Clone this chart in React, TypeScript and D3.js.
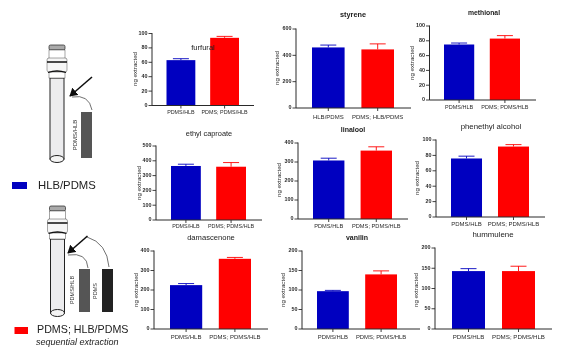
import React from "react";
import * as d3 from "d3";

const FONT = "'Liberation Sans', Arial, sans-serif";
const BLUE = "#0000c0";
const RED = "#ff0000";
const INK = "#2b2b2b";

const panelNames = ["furfural", "styrene", "methional", "ethyl caproate", "linalool", "phenethyl alcohol", "damascenone", "vanilin", "hummulene"];
const catsDefault = ["PDMS/HLB", "PDMS; PDMS/HLB"];
const catsStyrene = ["HLB/PDMS", "PDMS; HLB/PDMS"];
const means = [[63, 94], [460, 445], [75, 83], [365, 360], [308, 360], [76, 91.5], [225, 360], [97, 140], [143, 143]];
const upperErrors = [[65, 96], [478, 487], [77, 87], [377, 388], [320, 380], [79, 94], [233, 367], [99, 149], [149, 155]];
const ticksBy20 = [0, 20, 40, 60, 80, 100];
const ticksBy200 = [0, 200, 400, 600];
const ticksBy100To500 = [0, 100, 200, 300, 400, 500];
const ticksBy100To400 = [0, 100, 200, 300, 400];
const ticksBy50 = [0, 50, 100, 150, 200];
const panelTicks = [ticksBy20, ticksBy200, ticksBy20, ticksBy100To500, ticksBy100To400, ticksBy20, ticksBy100To400, ticksBy50, ticksBy50];

// Panel frames: axis x, axis end, baseline, top, bar span, title, y label, category label
const frames = [
  { ax: 152, xe: 254, y0: 105.5, yt: 33.5, b0: 166.5, b1: 239, tx: 203, ty: 48, lx: 135, ly: 69, cy: 113, cs: 5.4, ts: 7.6, tw: 400 },
  { ax: 296, xe: 411, y0: 108, yt: 29, b0: 312, b1: 394, tx: 353, ty: 15, lx: 277, ly: 68, cy: 117, cs: 6, ts: 7.3, tw: 700 },
  { ax: 429.5, xe: 536, y0: 100, yt: 26, b0: 444, b1: 520, tx: 484, ty: 13, lx: 412, ly: 63, cy: 108, cs: 5.5, ts: 6.8, tw: 700 },
  { ax: 156, xe: 262, y0: 220, yt: 146, b0: 171, b1: 246, tx: 209, ty: 134, lx: 139, ly: 183, cy: 227, cs: 5.4, ts: 7.4, tw: 400 },
  { ax: 298, xe: 408, y0: 219, yt: 143, b0: 313, b1: 392, tx: 353, ty: 130, lx: 279, ly: 180, cy: 226, cs: 5.7, ts: 7, tw: 700 },
  { ax: 436, xe: 545, y0: 217, yt: 140, b0: 451, b1: 529, tx: 491, ty: 127, lx: 417, ly: 178, cy: 224, cs: 6, ts: 7.8, tw: 400 },
  { ax: 154, xe: 268, y0: 329, yt: 251, b0: 170, b1: 251, tx: 211, ty: 238, lx: 136, ly: 290, cy: 337, cs: 6, ts: 7.6, tw: 400 },
  { ax: 302, xe: 420, y0: 329, yt: 251, b0: 317, b1: 397, tx: 357, ty: 238, lx: 283, ly: 290, cy: 337, cs: 5.9, ts: 7, tw: 700 },
  { ax: 435, xe: 552, y0: 329, yt: 248, b0: 452, b1: 535, tx: 493, ty: 235, lx: 416, ly: 290, cy: 337, cs: 6.2, ts: 7.9, tw: 400 },
];

function Panel({ index }: { index: number }) {
  const f = frames[index];
  const cats = index === 1 ? catsStyrene : catsDefault;
  const ticks = panelTicks[index];
  const y = d3.scaleLinear().domain([0, ticks[ticks.length - 1]]).range([f.y0, f.yt]);
  const x = d3.scaleBand<string>().domain(cats).range([f.b0, f.b1]).paddingInner(0.34);
  const colors = [BLUE, RED];
  const bw = x.bandwidth();
  return (
    <g fontFamily={FONT}>
      {cats.map((c, i) => {
        const left = x(c) as number;
        const cx = left + bw / 2;
        const top = y(means[index][i]);
        const eh = y(upperErrors[index][i]);
        return (
          <g key={c}>
            <rect x={left} y={top} width={bw} height={f.y0 - top} fill={colors[i]} />
            <path d={`M${cx},${top}V${eh}M${cx - 8},${eh}H${cx + 8}`} stroke={colors[i]} strokeWidth={0.9} fill="none" />
            <path d={`M${cx},${f.y0}v3`} stroke={INK} strokeWidth={0.9} />
            <text x={cx} y={f.cy} textAnchor="middle" dominantBaseline="middle" fontSize={f.cs} fill={INK}>{c}</text>
          </g>
        );
      })}
      <path d={`M${f.ax},${f.yt - 0.5}V${f.y0}H${f.xe}`} stroke={INK} strokeWidth={1} fill="none" />
      {ticks.map((t) => (
        <g key={t}>
          <path d={`M${f.ax - 3.5},${y(t)}H${f.ax}`} stroke={INK} strokeWidth={0.9} />
          <text x={f.ax - 4.5} y={y(t)} textAnchor="end" dominantBaseline="middle" fontSize={5.4} fontWeight={700} fill={INK}>{t}</text>
        </g>
      ))}
      <text x={f.tx} y={f.ty} textAnchor="middle" dominantBaseline="middle" fontSize={f.ts} fontWeight={f.tw} fill="#222">{panelNames[index]}</text>
      <text transform={`translate(${f.lx},${f.ly}) rotate(-90)`} textAnchor="middle" dominantBaseline="middle" fontSize={6.2} fill={INK}>ng extracted</text>
    </g>
  );
}

function Tube({ cx, top, bottom }: { cx: number; top: number; bottom: number }) {
  const t = top;
  return (
    <g stroke="#222" fill="none">
      <rect x={cx - 7} y={t + 33} width={14} height={bottom - t - 33} fill="#ececee" strokeWidth={1} />
      <ellipse cx={cx} cy={bottom} rx={7} ry={3.5} fill="#f4f4f4" strokeWidth={1} />
      <rect x={cx - 8} y={t} width={16} height={5} rx={1.5} fill="#aaa" strokeWidth={0.7} />
      <rect x={cx - 8} y={t + 5} width={16} height={9} fill="#fff" strokeWidth={0.4} />
      <rect x={cx - 10} y={t + 13} width={20} height={14} rx={2} fill="#f6f6f6" strokeWidth={0.4} />
      <rect x={cx - 8} y={t + 27} width={16} height={6} fill="#fff" strokeWidth={0.4} />
      <path d={`M${cx - 10},${t + 17}H${cx + 10}M${cx - 9},${t + 27.5}Q${cx},${t + 24.5} ${cx + 9},${t + 27.5}`} stroke="#111" strokeWidth={1.3} />
    </g>
  );
}

export default function App() {
  return (
    <svg width={567} height={355} style={{ position: "absolute", left: 0, top: 0, background: "#fff" }}>
      <defs>
        <filter id="soft" x="0" y="0" width="100%" height="100%">
          <feGaussianBlur stdDeviation={0.4} />
        </filter>
        <marker id="head" markerWidth={6} markerHeight={6} refX={4.5} refY={3} orient="auto" markerUnits="strokeWidth">
          <path d="M0,0L5,3L0,6Z" fill="#111" />
        </marker>
      </defs>
      <g filter="url(#soft)">
        <Tube cx={57} top={45} bottom={159} />
        <path d="M92,77L70,96" stroke="#111" strokeWidth={1.6} markerEnd="url(#head)" />
        <path d="M92,110Q89,94 72,97" stroke="#333" strokeWidth={0.7} fill="none" />
        <rect x={81} y={112} width={11} height={46} fill="#555" />
        <text transform="translate(75,135) rotate(-90)" textAnchor="middle" dominantBaseline="middle" fontSize={6} fontFamily={FONT} fill="#333">PDMS/HLB</text>

        <rect x={12} y={182} width={15} height={7} fill={BLUE} />
        <text x={38} y={186} dominantBaseline="middle" fontSize={11.3} fontFamily={FONT} fill="#222">HLB/PDMS</text>

        <Tube cx={57.5} top={206} bottom={313} />
        <path d="M87.5,236L68,253" stroke="#111" strokeWidth={1.6} markerEnd="url(#head)" />
        <path d="M88,268Q87,252 68,255" stroke="#333" strokeWidth={0.7} fill="none" />
        <path d="M109,267Q107,243 87,237" stroke="#333" strokeWidth={0.7} fill="none" />
        <rect x={79} y={269} width={11} height={43} fill="#555" />
        <rect x={102} y={269} width={11} height={43} fill="#222" />
        <text transform="translate(73,290) rotate(-90)" textAnchor="middle" dominantBaseline="middle" fontSize={5.5} fontFamily={FONT} fill="#333">PDMS/HLB</text>
        <text transform="translate(96,291) rotate(-90)" textAnchor="middle" dominantBaseline="middle" fontSize={5.5} fontFamily={FONT} fill="#333">PDMS</text>

        <rect x={14.5} y={327} width={13.5} height={7} fill={RED} />
        <text x={37} y={330} dominantBaseline="middle" fontSize={10.7} fontFamily={FONT} fill="#222">PDMS; HLB/PDMS</text>
        <text x={36} y={343} dominantBaseline="middle" fontSize={9} fontStyle="italic" fontFamily={FONT} fill="#222">sequential extraction</text>

        {panelNames.map((_, i) => <Panel key={i} index={i} />)}
      </g>
    </svg>
  );
}
